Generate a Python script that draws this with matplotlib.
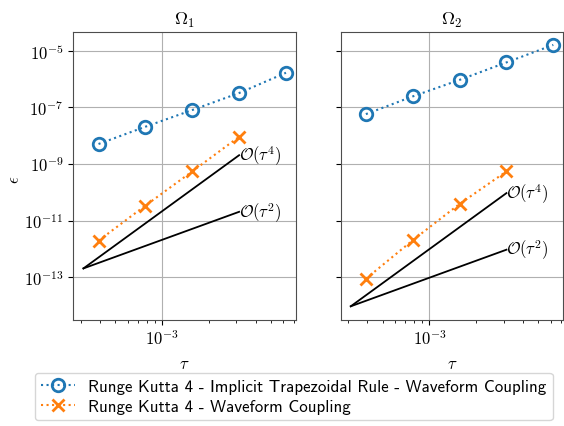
import matplotlib
matplotlib.use("Agg")
import matplotlib.pyplot as plt
import matplotlib.ticker as mticker
import numpy as np

plt.rcParams['mathtext.fontset'] = 'cm'

# ---- data ----
tau = [3.906e-4, 7.8125e-4, 1.5625e-3, 3.125e-3, 6.25e-3]
tau_orange = [3.906e-4, 7.8125e-4, 1.5625e-3, 3.125e-3]
titles = [r'$\Omega_1$', r'$\Omega_2$']
blue_err = [
    [5.1e-9, 2.08e-8, 8.1e-8, 3.23e-7, 1.68e-6],
    [5.8e-8, 2.45e-7, 9.4e-7, 3.9e-6, 1.62e-5],
]
orange_err = [
    [1.96e-12, 3.4e-11, 5.5e-10, 9.2e-9],
    [8.8e-14, 2.03e-12, 3.9e-11, 5.5e-10],
]
ref_tau = [3.125e-4, 3.125e-3]
ref_start = [2.05e-13, 9.4e-15]
label_blue = 'Runge Kutta 4 - Implicit Trapezoidal Rule - Waveform Coupling'
label_orange = 'Runge Kutta 4 - Waveform Coupling'

fig = plt.figure(figsize=(5.64, 4.27), dpi=100)
ax1 = fig.add_axes([0.130, 0.249, 0.395, 0.674])
ax2 = fig.add_axes([0.604, 0.249, 0.395, 0.674], sharey=ax1)
axes = [ax1, ax2]

handles = None
for i, ax in enumerate(axes):
    hb, = ax.loglog(tau, blue_err[i], ':', color='#1f77b4', marker='o',
                    markersize=9, markerfacecolor='none', markeredgewidth=2,
                    label=label_blue)
    ho, = ax.loglog(tau_orange, orange_err[i], ':', color='#ff7f0e', marker='x',
                    markersize=9, markeredgewidth=2, label=label_orange)
    handles = [hb, ho]
    t0, t1 = ref_tau
    c = ref_start[i]
    for p in (4, 2):
        y1 = c * (t1 / t0) ** p
        ax.loglog(ref_tau, [c, y1], '-', color='black', linewidth=1.3)
        ax.text(t1, y1, r'$\mathcal{O}(\tau^%d)$' % p, ha='left', va='center',
                fontsize=12)
    ax.set_title(titles[i], fontsize=13)
    ax.set_xlabel(r'$\tau$', fontsize=12)
    ax.grid(True, which='major', color='#b0b0b0', linewidth=0.8)
    ax.yaxis.set_major_locator(mticker.FixedLocator([10.0**k for k in (-13, -11, -9, -7, -5)]))
    ax.yaxis.set_minor_locator(mticker.NullLocator())
    ax.xaxis.set_major_locator(mticker.FixedLocator([1e-3]))
    ax.xaxis.set_minor_locator(mticker.LogLocator(base=10, subs=np.arange(2, 10), numticks=20))
    ax.xaxis.set_minor_formatter(mticker.NullFormatter())
    ax.xaxis.set_major_formatter(mticker.FuncFormatter(lambda v, p: r'$10^{%d}$' % round(np.log10(v))))
    ax.yaxis.set_major_formatter(mticker.FuncFormatter(lambda v, p: r'$10^{%d}$' % round(np.log10(v))))
    ax.tick_params(labelsize=12)
    for s in ax.spines.values():
        s.set_color('0.3')

ax1.set_xlim(2.69e-4, 7.26e-3)
ax2.set_xlim(2.69e-4, 7.26e-3)
ax1.set_ylim(10**-14.5, 10**-4.33)
ax1.set_ylabel(r'$\epsilon$', fontsize=12)
ax1.yaxis.set_label_coords(-0.225, 0.49)
plt.setp(ax2.get_yticklabels(), visible=False)

fig.legend(handles=handles, loc='upper left', bbox_to_anchor=(0.062, 0.124),
           prop={'family': 'cmss10', 'size': 12.2}, borderaxespad=0.0,
           handlelength=2.0, labelspacing=0.3, borderpad=0.35, frameon=True)

fig.savefig('out.png', dpi=100)
